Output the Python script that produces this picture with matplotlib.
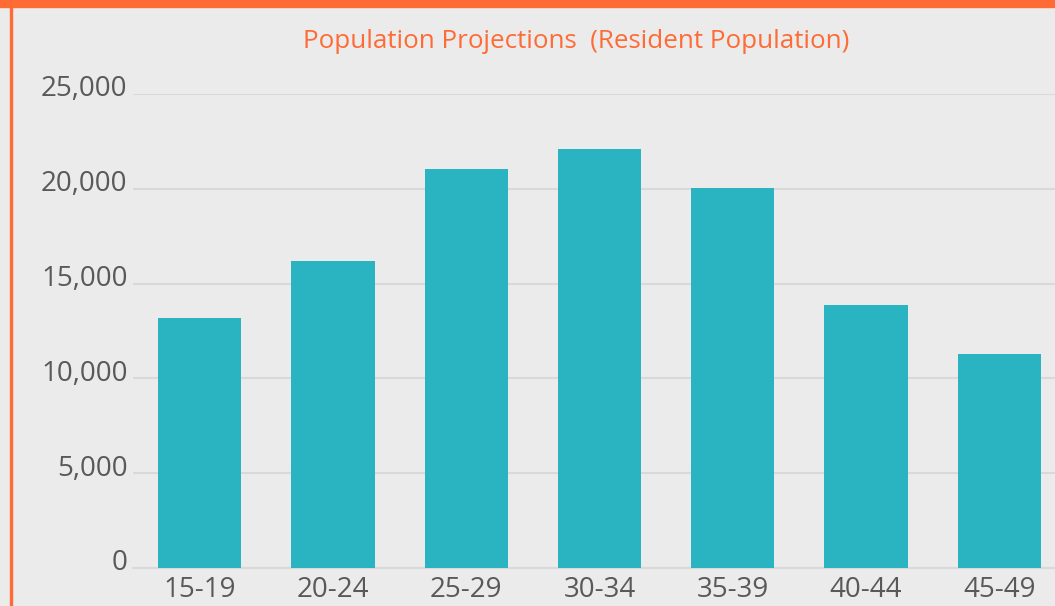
import matplotlib
matplotlib.use("Agg")
from matplotlib import pyplot as plt
from matplotlib.patches import Rectangle
from matplotlib.ticker import FuncFormatter
from matplotlib.transforms import ScaledTranslation

# Age groups and projected resident population
ageGroups = ["15-19", "20-24", "25-29", "30-34", "35-39", "40-44", "45-49"]
population = [13200, 16200, 21050, 22100, 20050, 13880, 11280]
yTicks = [0, 5000, 10000, 15000, 20000, 25000]

plt.rcParams['font.family'] = ['Open Sans', 'DejaVu Sans']

fig = plt.figure(figsize=(10.55, 6.06), dpi=100)
fig.patch.set_facecolor('#ebebeb')

#Axes area, right side runs past the figure edge like the reference crop
ax = fig.add_axes([133/1055, 38/606, (1066-133)/1055, (568-94)/606])
ax.set_facecolor('#ebebeb')

ax.bar(range(len(ageGroups)), population, width=0.625, color='#2ab3c0', zorder=3)

ax.set_xlim(-0.5, 6.5)
ax.set_ylim(0, 25000)
ax.set_yticks(yTicks)
ax.yaxis.set_major_formatter(FuncFormatter(lambda v, p: f"{int(v):,}"))
ax.set_xticks(range(len(ageGroups)))
ax.set_xticklabels(ageGroups)

ax.grid(axis='y', color='#d9d9d9', linewidth=1.5, zorder=0)
for side in ['top', 'right', 'left']:
    ax.spines[side].set_visible(False)
ax.spines['bottom'].set_color('#d9d9d9')
ax.spines['bottom'].set_linewidth(1.5)
ax.tick_params(axis='both', length=0, labelsize=20, colors='#595959')
ax.tick_params(axis='y', pad=4)
ax.tick_params(axis='x', pad=6)

#y labels sit a little above their gridlines
shift = ScaledTranslation(0, 8/100, fig.dpi_scale_trans)
for label in ax.get_yticklabels():
    label.set_transform(label.get_transform() + shift)

#Title in orange
fig.text(576/1055, 1 - 41/606, "Population Projections  (Resident Population)",
         ha='center', va='center', fontsize=18.7, color='#ff6b35')

#Orange frame on top and left
fig.patches.append(Rectangle((0, 1 - 7/606), 1, 7/606, transform=fig.transFigure,
                             color='#ff6b35', zorder=10))
fig.patches.append(Rectangle((10/1055, 0), 2/1055, 1, transform=fig.transFigure,
                             color='#ff6b35', zorder=10))

fig.savefig('out.png', dpi=100, facecolor=fig.get_facecolor())
